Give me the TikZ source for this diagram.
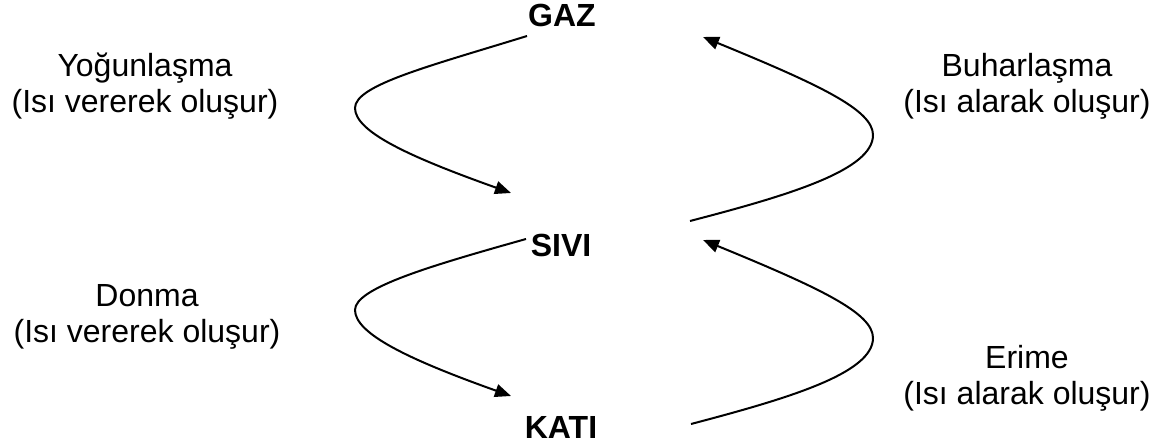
\documentclass[tikz,border=0pt]{standalone}
\usepackage{fontspec}
\setmainfont{Liberation Sans}
\usetikzlibrary{arrows.meta}
\tikzset{
  phase/.style={font=\fontsize{32}{36}\selectfont\bfseries, inner sep=0pt},
  change/.style={font=\fontsize{32}{36}\selectfont, align=center, inner sep=0pt},
  flow/.style={line width=2pt, -{Triangle[length=16pt,width=13pt]}},
}
\begin{document}
\begin{tikzpicture}[x=1pt,y=-1pt]
  \useasboundingbox (0,0) rectangle (1152,443);

  % states of matter
  \node[phase] (gaz)  at (562,15)  {GAZ};
  \node[phase] (sivi) at (561,245) {SIVI};
  \node[phase] (kati) at (561,427) {KATI};

  % transition labels
  \node[change] (yog) at (145,86)  {Yoğunlaşma\\(Isı vererek oluşur)};
  \node[change] (buh) at (1027,86) {Buharlaşma\\(Isı alarak oluşur)};
  \node[change] (don) at (147,317) {Donma\\(Isı vererek oluşur)};
  \node[change] (eri) at (1027,378) {Erime\\(Isı alarak oluşur)};

  % curve end points beside the state names
  \coordinate (gazL)  at (527,36);
  \coordinate (siviLin) at (511,193);
  \coordinate (siviR) at (690,221);
  \coordinate (gazR)  at (703,37);
  \coordinate (siviL) at (526,239);
  \coordinate (katiL) at (511,396);
  \coordinate (katiR) at (691,424);
  \coordinate (siviRin) at (703,240);

  % gas -> liquid
  \draw[flow] (gazL) .. controls (430,66) and (355,85) .. (355,108)
                     .. controls (355,132) and (410,157) .. (siviLin);
  % liquid -> gas
  \draw[flow] (siviR) .. controls (790,195) and (873,170) .. (873,135)
                      .. controls (873,110) and (820,85) .. (gazR);
  % liquid -> solid
  \draw[flow] (siviL) .. controls (430,266) and (355,288) .. (355,310)
                      .. controls (355,334) and (410,360) .. (katiL);
  % solid -> liquid
  \draw[flow] (katiR) .. controls (790,398) and (873,373) .. (873,338)
                      .. controls (873,313) and (820,288) .. (siviRin);
\end{tikzpicture}
\end{document}
